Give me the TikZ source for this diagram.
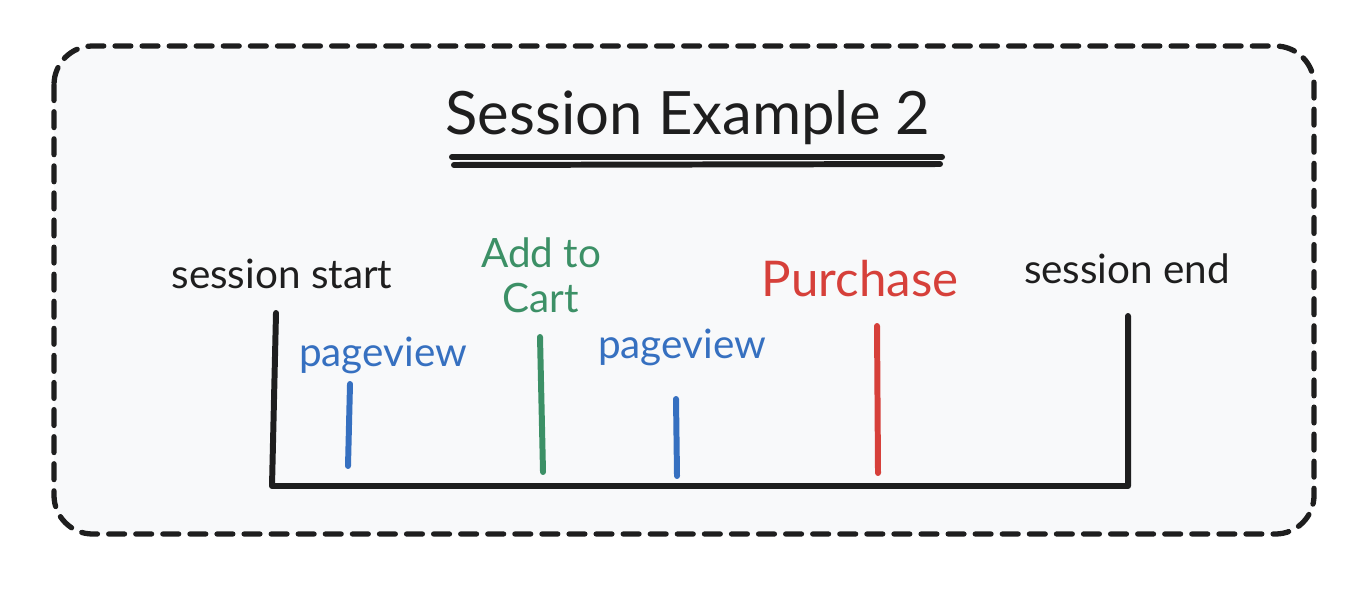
\documentclass[tikz,border=0pt]{standalone}
\usepackage{fontspec}
\setmainfont{Lato}
\definecolor{evBlue}{HTML}{3670C0}
\definecolor{evGreen}{HTML}{3C9066}
\definecolor{evRed}{HTML}{D6403A}
\definecolor{evInk}{HTML}{1E1E1E}
\definecolor{evPaper}{HTML}{F8F9FA}
\usetikzlibrary{positioning,calc}

\begin{document}
\begin{tikzpicture}[
    x=0.01cm, y=-0.01cm,
    frame/.style={draw=evInk, fill=evPaper, line width=1.5pt, rounded corners=11pt,
                  dash pattern=on 4.5pt off 3.2pt, line cap=round},
    axis/.style={draw=evInk, line width=1.7pt, line cap=round, line join=round},
    tick/.style={line width=1.7pt, line cap=round},
    lbl/.style={anchor=base, inner sep=0pt, font=\fontsize{11.5}{13}\selectfont},
  ]
    \useasboundingbox (0,0) rectangle (1368,588);
    \path[frame] (54,46) rectangle (1314,534);

    % Title with double underline
    \node[anchor=base, inner sep=0pt, text=evInk, font=\fontsize{17}{20}\selectfont] (title) at (688,135) {Session Example 2};
    \coordinate (ulA) at (452,157);
    \coordinate (ulB) at (942,157);
    \draw[tick, evInk] (ulA) -- (ulB);
    \draw[tick, evInk] ($(ulA)+(2,8)$) -- ($(ulB)+(-2,7)$);

    % Timeline
    \coordinate (startTop) at (276,313);
    \coordinate (startBot) at (272,486);
    \coordinate (endBot) at (1128,486);
    \coordinate (endTop) at (1128,316);
    \draw[axis] (startTop) -- (startBot) -- (endBot) -- (endTop);
    \node[lbl, text=evInk] (start) at (282,288) {session start};
    \node[lbl, text=evInk] (end) at (1127,283) {session end};

    % Events
    \node[lbl, text=evBlue] (pv1) at (383,366) {pageview};
    \coordinate (pv1Top) at (350,384);
    \coordinate (pv1Bot) at (348,466);
    \draw[tick, evBlue] (pv1Top) -- (pv1Bot);

    \node[lbl, text=evGreen, align=center, font=\fontsize{11.5}{12.6}\selectfont] (cart) at (541,312) {Add to\\Cart};
    \coordinate (cartTop) at (540,337);
    \coordinate (cartBot) at (543,472);
    \draw[tick, evGreen] (cartTop) -- (cartBot);

    \node[lbl, text=evBlue] (pv2) at (682,358) {pageview};
    \coordinate (pv2Top) at (676,399);
    \coordinate (pv2Bot) at (677,476);
    \draw[tick, evBlue] (pv2Top) -- (pv2Bot);

    \node[lbl, text=evRed, font=\fontsize{14}{16}\selectfont] (buy) at (860,296) {Purchase};
    \coordinate (buyTop) at (877,326);
    \coordinate (buyBot) at (878,473);
    \draw[tick, evRed] (buyTop) -- (buyBot);
\end{tikzpicture}
\end{document}
